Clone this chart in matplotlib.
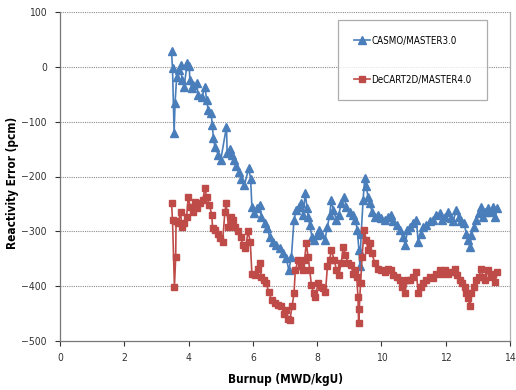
import matplotlib
matplotlib.use("Agg")
import matplotlib.pyplot as plt
from matplotlib import font_manager

# ---------------- data ----------------
casmo_x = [3.47, 3.50, 3.55, 3.58, 3.63, 3.70, 3.75, 3.80, 3.86, 3.96, 4.02, 4.04, 4.10, 4.15,
           4.25, 4.30, 4.41, 4.51, 4.56, 4.61, 4.70, 4.74, 4.77, 4.82, 4.93, 5.00, 5.18, 5.20,
           5.29, 5.34, 5.41, 5.48, 5.56, 5.64, 5.74, 5.87, 5.93, 5.97, 6.04, 6.14, 6.21, 6.26,
           6.37, 6.45, 6.52, 6.63, 6.73, 6.84, 6.94, 7.04, 7.12, 7.20, 7.28, 7.35, 7.43, 7.49,
           7.56, 7.63, 7.69, 7.72, 7.77, 7.84, 7.90, 7.98, 8.05, 8.13, 8.24, 8.32, 8.39, 8.44,
           8.50, 8.60, 8.67, 8.75, 8.83, 8.91, 9.01, 9.12, 9.19, 9.25, 9.30, 9.33, 9.37, 9.43,
           9.48, 9.53, 9.58, 9.63, 9.71, 9.79, 9.90, 10.00, 10.10, 10.21, 10.29, 10.36, 10.47,
           10.57, 10.67, 10.74, 10.81, 10.88, 10.98, 11.09, 11.14, 11.22, 11.29, 11.40, 11.50,
           11.60, 11.71, 11.81, 11.87, 11.97, 12.07, 12.16, 12.23, 12.33, 12.40, 12.49, 12.57,
           12.64, 12.70, 12.75, 12.80, 12.88, 12.95, 13.03, 13.11, 13.16, 13.23, 13.32, 13.40,
           13.47, 13.54, 13.61]
casmo_y = [28, -2, -120, -66, -18, -6, 3, -24, -36, 7, 1, -24, -39, -33,
           -30, -51, -55, -37, -60, -79, -85, -106, -130, -146, -161, -170, -109, -157,
           -149, -161, -170, -180, -191, -204, -215, -185, -204, -255, -267, -258, -252, -273,
           -285, -294, -310, -319, -325, -331, -340, -349, -371, -346, -279, -261, -255, -249,
           -270, -231, -258, -273, -288, -310, -316, -307, -298, -304, -316, -292, -270, -243,
           -261, -279, -270, -249, -237, -255, -264, -270, -279, -298, -334, -364, -304, -243,
           -203, -218, -237, -249, -264, -273, -270, -276, -279, -273, -270, -282, -288,
           -298, -310, -325, -298, -292, -285, -279, -319, -304, -292, -288, -282,
           -279, -270, -267, -279, -273, -264, -276, -282, -261, -273, -282, -285,
           -304, -316, -328, -307, -292, -279, -267, -255, -273, -264, -258, -264,
           -255, -273, -258]

decart_x = [3.47, 3.50, 3.56, 3.60, 3.61, 3.68, 3.75, 3.79, 3.86, 3.94, 3.99, 4.05, 4.13, 4.20,
            4.27, 4.36, 4.44, 4.51, 4.56, 4.65, 4.72, 4.75, 4.82, 4.90, 4.98, 5.06, 5.13, 5.17,
            5.24, 5.32, 5.38, 5.46, 5.54, 5.62, 5.69, 5.77, 5.85, 5.92, 5.97, 6.06, 6.16, 6.21,
            6.26, 6.35, 6.42, 6.49, 6.58, 6.68, 6.78, 6.89, 6.97, 7.04, 7.10, 7.15, 7.22, 7.28,
            7.32, 7.41, 7.49, 7.56, 7.61, 7.66, 7.72, 7.77, 7.82, 7.89, 7.94, 8.03, 8.11, 8.18,
            8.26, 8.32, 8.39, 8.44, 8.53, 8.60, 8.67, 8.75, 8.81, 8.88, 8.96, 9.05, 9.12, 9.19,
            9.23, 9.27, 9.29, 9.31, 9.35, 9.40, 9.46, 9.53, 9.58, 9.63, 9.71, 9.79, 9.90, 10.00,
            10.10, 10.21, 10.29, 10.36, 10.47, 10.57, 10.65, 10.72, 10.81, 10.88, 10.98, 11.09,
            11.14, 11.22, 11.29, 11.40, 11.50, 11.60, 11.71, 11.81, 11.87, 11.97, 12.07, 12.17,
            12.28, 12.36, 12.43, 12.51, 12.59, 12.64, 12.70, 12.75, 12.80, 12.88, 12.95, 13.03,
            13.11, 13.16, 13.23, 13.32, 13.40, 13.47, 13.54, 13.61]
decart_y = [-249, -279, -401, -346, -282, -285, -264, -292, -285, -273, -237, -255, -264, -246,
            -258, -249, -243, -221, -237, -252, -270, -294, -297, -304, -313, -319, -264, -249,
            -292, -273, -279, -292, -300, -310, -325, -331, -300, -319, -377, -380, -368, -358,
            -383, -389, -395, -410, -425, -431, -434, -437, -450, -443, -459, -462, -437, -413,
            -371, -352, -364, -370, -352, -322, -346, -370, -398, -413, -419, -395, -401, -404,
            -410, -364, -352, -334, -352, -370, -380, -358, -328, -343, -358, -361, -377, -370,
            -383, -419, -468, -441, -395, -346, -297, -316, -334, -322, -340, -358, -368, -370,
            -374, -368, -370, -380, -383, -389, -401, -413, -389, -389, -383, -374,
            -413, -401, -395, -389, -383, -386, -377, -370, -377, -370, -377, -374,
            -368, -380, -389, -395, -401, -413, -422, -437, -413, -401, -389, -383,
            -368, -383, -389, -370, -383, -377, -392, -374]

series_labels = ["CASMO/MASTER3.0", "DeCART2D/MASTER4.0"]
x_ticks = [0, 2, 4, 6, 8, 10, 12, 14]
y_ticks = [-500, -400, -300, -200, -100, 0, 100]

# ---------------- fonts ----------------
stretch = "normal"
fam = ["Liberation Sans", "DejaVu Sans"]
try:
    p = font_manager.findfont(font_manager.FontProperties(family="DejaVu Sans", stretch="condensed"),
                              fallback_to_default=False)
    if "Condensed" in p:
        fam = ["DejaVu Sans", "Liberation Sans"]
        stretch = "condensed"
except Exception:
    pass
plt.rcParams["font.family"] = fam
plt.rcParams["font.stretch"] = stretch
cond = stretch == "condensed"
tick_fs = 7.5
leg_fs = 7.0 if cond else 6.5

blue = "#4a7ebb"
red = "#be4b48"

fig = plt.figure(figsize=(5.16, 3.90), dpi=100)
ax = fig.add_axes([60/516, 1-341/390, 450/516, 329/390])

ax.plot(casmo_x, casmo_y, color=blue, lw=1.2, marker="^", ms=5.8, mec=blue, mfc=blue,
        label=series_labels[0], zorder=3)
ax.plot(decart_x, decart_y, color=red, lw=1.2, marker="s", ms=4.8, mec=red, mfc=red,
        label=series_labels[1], zorder=3)

ax.set_xlim(0, 14)
ax.set_ylim(-500, 100)
ax.set_xticks(x_ticks)
ax.set_yticks(y_ticks)
ax.tick_params(axis="both", labelsize=tick_fs, colors="#333333", length=3.5, width=0.8,
               direction="out")
ax.tick_params(axis="x", pad=5)
ax.tick_params(axis="y", pad=6)

for y in y_ticks[1:]:
    ax.axhline(y, color="#8c8c8c", lw=0.8, ls=(0, (1, 1)), zorder=1)

for s in ["left", "bottom"]:
    ax.spines[s].set_color("#777777")
    ax.spines[s].set_linewidth(0.9)
ax.spines["right"].set_color("#b0b0b0")
ax.spines["right"].set_linewidth(0.9)
ax.spines["top"].set_visible(False)

ax.set_xlabel("Burnup (MWD/kgU)", fontsize=8.5, fontweight="bold")
ax.set_ylabel("Reactivity Error (pcm)", fontsize=8.5, fontweight="bold")
ax.xaxis.set_label_coords(0.5, -(373 - 341) / 329)
ax.yaxis.set_label_coords(-(60 - 19) / 450, 0.48)

leg = ax.legend(loc="upper left", bbox_to_anchor=((338 - 60) / 450, 1 - (20 - 12) / 329),
                fontsize=leg_fs, frameon=True, fancybox=False, edgecolor="#999999",
                handlelength=1.7, handletextpad=0.1, labelspacing=3.0,
                borderpad=1.6, borderaxespad=0)
leg.get_frame().set_linewidth(0.9)

fig.savefig("out.png", dpi=100)
